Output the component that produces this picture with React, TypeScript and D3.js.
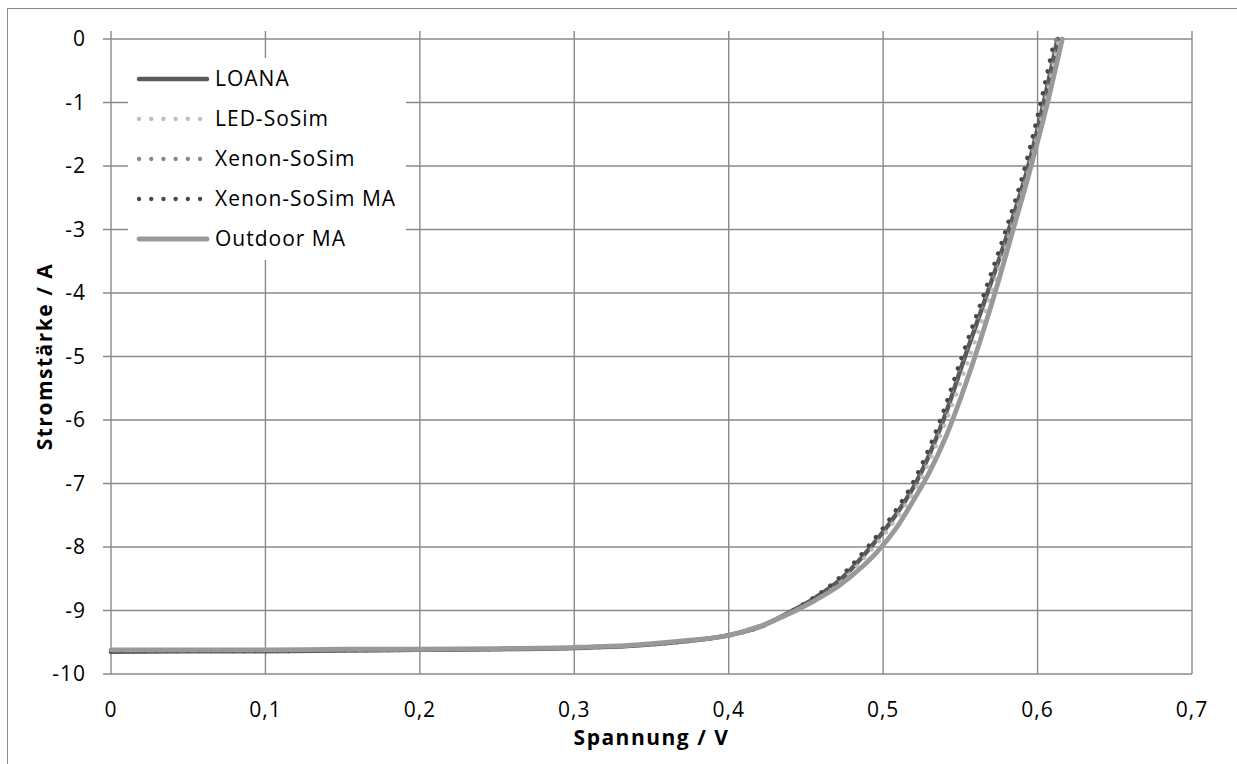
import React, { useEffect, useRef } from 'react';
import * as d3 from 'd3';

// tick values
const xTicks = [0, 0.1, 0.2, 0.3, 0.4, 0.5, 0.6, 0.7];
const yTicks = [0, -1, -2, -3, -4, -5, -6, -7, -8, -9, -10];

// shared current grid for the sim curves (A)
const simCurrent = [-9.65, -9.64, -9.64, -9.63, -9.62, -9.61, -9.59, -9.55, -9.49, -9.39, -9.26, -9.02, -8.8, -8.52, -8.0, -7.5, -7.0, -6.0, -5.0, -4.0, -3.0, -2.0, -1.0, 0];

// voltages (V) per series
const loanaV = [0, 0.05, 0.1, 0.15, 0.2, 0.25, 0.3, 0.34, 0.37, 0.4, 0.42, 0.44, 0.456, 0.472, 0.492, 0.508, 0.521, 0.539, 0.553, 0.5675, 0.5815, 0.594, 0.604, 0.613];
const ledV = [0, 0.05, 0.1, 0.15, 0.2, 0.25, 0.3, 0.34, 0.37, 0.4, 0.42, 0.44, 0.457, 0.473, 0.494, 0.51, 0.523, 0.541, 0.556, 0.57, 0.583, 0.595, 0.605, 0.614];
const xenonV = [0, 0.05, 0.1, 0.15, 0.2, 0.25, 0.3, 0.34, 0.37, 0.4, 0.42, 0.44, 0.455, 0.471, 0.491, 0.507, 0.52, 0.538, 0.552, 0.567, 0.581, 0.593, 0.603, 0.612];
const xenonMaV = [0, 0.05, 0.1, 0.15, 0.2, 0.25, 0.3, 0.34, 0.37, 0.4, 0.42, 0.44, 0.455, 0.47, 0.49, 0.506, 0.519, 0.537, 0.551, 0.5655, 0.5795, 0.592, 0.602, 0.611];

const outdoorV = [0, 0.05, 0.1, 0.15, 0.2, 0.25, 0.3, 0.34, 0.37, 0.4, 0.42, 0.44, 0.456, 0.472, 0.486, 0.496, 0.508, 0.52, 0.53, 0.54, 0.548, 0.5595, 0.5724, 0.5842, 0.5958, 0.6065, 0.616];
const outdoorI = [-9.62, -9.62, -9.62, -9.61, -9.61, -9.6, -9.58, -9.54, -9.48, -9.39, -9.25, -9.04, -8.84, -8.6, -8.32, -8.08, -7.72, -7.25, -6.82, -6.3, -5.8, -5.0, -4.0, -3.0, -2.0, -1.0, 0];

const seriesNames = ['LOANA', 'LED-SoSim', 'Xenon-SoSim', 'Xenon-SoSim MA', 'Outdoor MA'];

const FONT = "'Open Sans', 'Liberation Sans', sans-serif";

function IvChart() {
  const ref = useRef<SVGSVGElement | null>(null);

  useEffect(() => {
    const svg = d3.select(ref.current);
    svg.selectAll('*').remove();

    const left = 111, right = 1192, top = 39, bottom = 674;

    const x = d3.scaleLinear().domain([0, 0.7]).range([left, right]);
    const y = d3.scaleLinear().domain([-10, 0]).range([bottom, top]);

    const series = [
      { name: seriesNames[0], v: loanaV, i: simCurrent, color: '#5a5a5a', dotted: false, width: 4.5 },
      { name: seriesNames[1], v: ledV, i: simCurrent, color: '#bebebe', dotted: true, width: 4.3 },
      { name: seriesNames[2], v: xenonV, i: simCurrent, color: '#878787', dotted: true, width: 4.3 },
      { name: seriesNames[3], v: xenonMaV, i: simCurrent, color: '#474747', dotted: true, width: 4.3 },
      { name: seriesNames[4], v: outdoorV, i: outdoorI, color: '#999999', dotted: false, width: 4.8 },
    ];

    // outer chart border
    svg.append('rect')
      .attr('x', 7.5).attr('y', 8.5)
      .attr('width', 1300).attr('height', 800)
      .attr('fill', 'white')
      .attr('stroke', '#8a8a8a')
      .attr('stroke-width', 1);

    const grid = svg.append('g')
      .attr('stroke', '#8a8a8a')
      .attr('stroke-width', 1.4);

    grid.selectAll('line.h')
      .data(yTicks)
      .enter()
      .append('line')
      .attr('class', 'h')
      .attr('x1', left - 8)
      .attr('x2', right)
      .attr('y1', d => y(d))
      .attr('y2', d => y(d));

    grid.selectAll('line.v')
      .data(xTicks)
      .enter()
      .append('line')
      .attr('class', 'v')
      .attr('x1', d => x(d))
      .attr('x2', d => x(d))
      .attr('y1', top - 8)
      .attr('y2', bottom);

    // tick labels
    svg.append('g')
      .selectAll('text')
      .data(yTicks)
      .enter()
      .append('text')
      .attr('x', 86)
      .attr('y', d => y(d))
      .attr('dy', '0.35em')
      .attr('text-anchor', 'end')
      .style('font-family', FONT)
      .style('font-size', '21px')
      .style('letter-spacing', '1px')
      .attr('fill', '#000')
      .text(d => String(d));

    svg.append('g')
      .selectAll('text')
      .data(xTicks)
      .enter()
      .append('text')
      .attr('x', d => x(d))
      .attr('y', 710)
      .attr('dy', '0.35em')
      .attr('text-anchor', 'middle')
      .style('font-family', FONT)
      .style('font-size', '21px')
      .style('letter-spacing', '1px')
      .attr('fill', '#000')
      .text(d => String(d).replace('.', ','));

    // axis titles
    svg.append('text')
      .attr('x', (left + right) / 2)
      .attr('y', 738)
      .attr('dy', '0.35em')
      .attr('text-anchor', 'middle')
      .style('font-family', FONT)
      .style('font-size', '21px')
      .style('letter-spacing', '1.5px')
      .style('font-weight', 'bold')
      .text('Spannung / V');

    svg.append('text')
      .attr('transform', `translate(45, ${(top + bottom) / 2}) rotate(-90)`)
      .attr('dy', '0.35em')
      .attr('text-anchor', 'middle')
      .style('font-family', FONT)
      .style('font-size', '21px')
      .style('letter-spacing', '1.5px')
      .style('font-weight', 'bold')
      .text('Stromstärke / A');

    const line = d3.line<[number, number]>()
      .x(d => x(d[0]))
      .y(d => y(d[1]))
      .curve(d3.curveMonotoneX);

    series.forEach(s => {
      const pts = s.v.map((v, k) => [v, s.i[k]] as [number, number]);
      svg.append('path')
        .datum(pts)
        .attr('fill', 'none')
        .attr('stroke', s.color)
        .attr('stroke-width', s.width)
        .attr('stroke-linecap', 'round')
        .attr('stroke-linejoin', 'round')
        .attr('stroke-dasharray', s.dotted ? '0.1 11' : null)
        .attr('d', line);
    });

    // legend
    const legend = svg.append('g');
    legend.append('rect')
      .attr('x', 128).attr('y', 58)
      .attr('width', 278).attr('height', 202)
      .attr('fill', 'white');

    const rows = legend.selectAll('g.item')
      .data(series)
      .enter()
      .append('g')
      .attr('class', 'item')
      .attr('transform', (d, k) => `translate(0, ${79 + k * 40})`);

    rows.append('line')
      .attr('x1', 139).attr('x2', 207)
      .attr('y1', 0).attr('y2', 0)
      .attr('stroke', d => d.color)
      .attr('stroke-width', d => d.width)
      .attr('stroke-linecap', 'round')
      .attr('stroke-dasharray', d => (d.dotted ? '0.1 12.1' : null));

    rows.append('text')
      .attr('x', 215)
      .attr('y', 0)
      .attr('dy', '0.35em')
      .style('font-family', FONT)
      .style('font-size', '21px')
      .style('letter-spacing', '1px')
      .attr('fill', '#000')
      .text(d => d.name);
  }, []);

  return <svg ref={ref} width={1237} height={764} style={{ display: 'block' }} />;
}

export default function App() {
  return (
    <div style={{ position: 'absolute', left: 0, top: 0 }}>
      <IvChart />
    </div>
  );
}
